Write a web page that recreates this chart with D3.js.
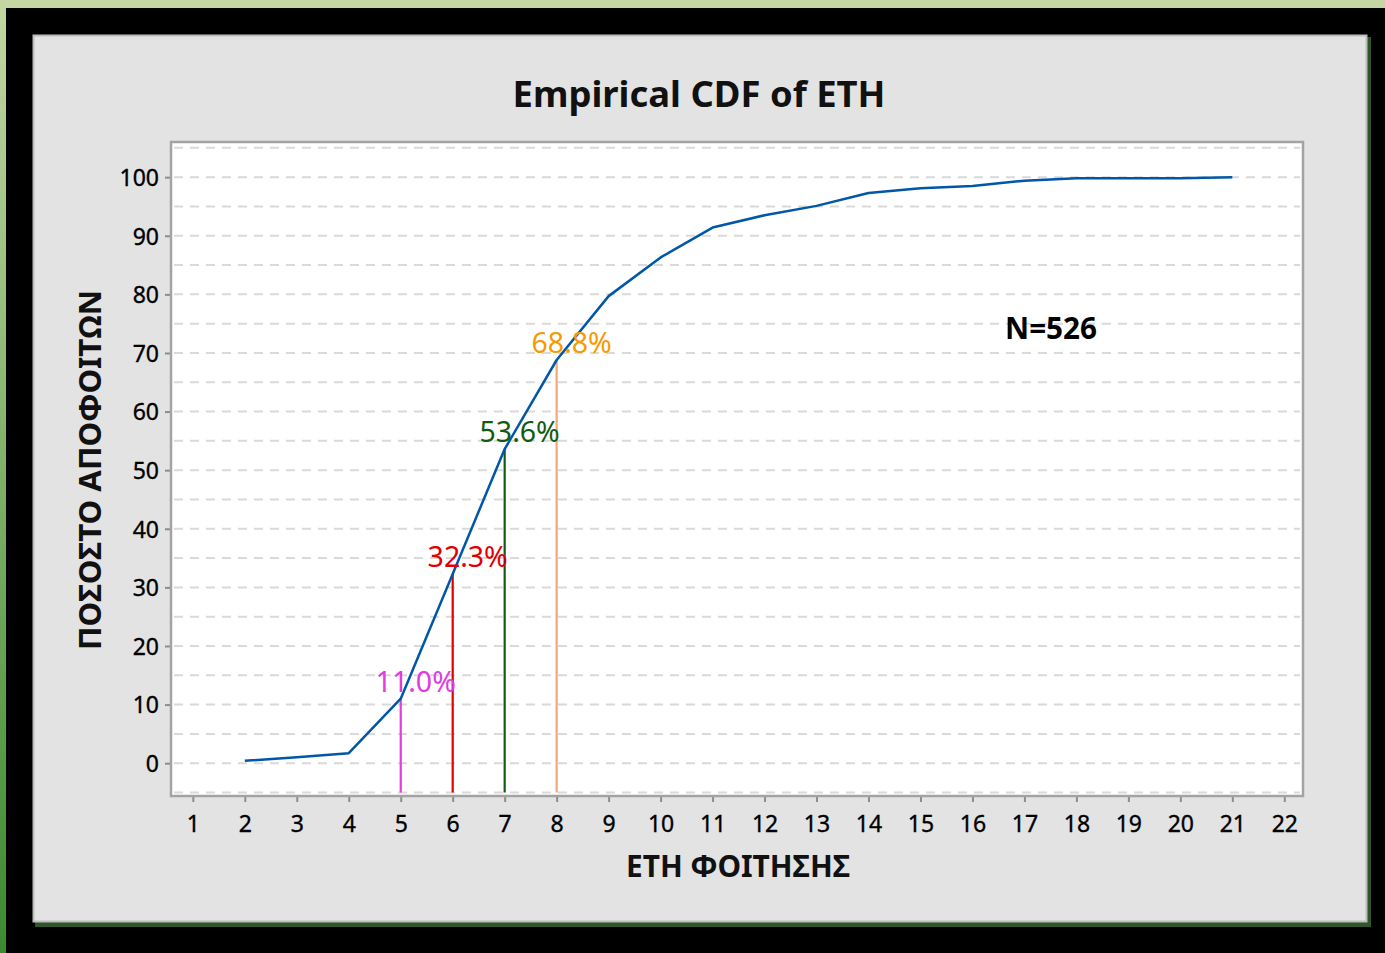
<!DOCTYPE html>
<html>
<head>
<meta charset="utf-8">
<script src="https://cdn.jsdelivr.net/npm/d3@7"></script>
<style>
  html, body { margin: 0; padding: 0; background: #000; }
  svg { display: block; }
  text { font-family: "Noto Sans", "Open Sans", sans-serif; }
</style>
</head>
<body>
<div id="chart"></div>
<script>
// data
var years = [2, 3, 4, 5, 6, 7, 8, 9, 10, 11, 12, 13, 14, 15, 16, 17, 18, 19, 20, 21]
var cdfPct = [0.4, 1.0, 1.7, 11.0, 32.3, 53.6, 68.8, 79.7, 86.3, 91.4, 93.5, 95.1, 97.3, 98.1, 98.5, 99.4, 99.8, 99.8, 99.8, 100]
var markYears = [5, 6, 7, 8]
var markPct = [11.0, 32.3, 53.6, 68.8]
var markLabels = ["11.0%", "32.3%", "53.6%", "68.8%"]
var markTextColors = ["#e03ce0", "#e00000", "#125c12", "#f59a00"]
var markLineColors = ["#e03ce0", "#e00000", "#125c12", "#f0a878"]
var xTicks = d3.range(1, 23)
var yTicks = d3.range(0, 101, 10)
var gridVals = d3.range(-5, 106, 5)

var W = 1385, H = 953
var svg = d3.select("#chart").append("svg").attr("width", W).attr("height", H)

// outer frame
var defs = svg.append("defs")
var lg = defs.append("linearGradient").attr("id", "leftg").attr("x1", 0).attr("y1", 0).attr("x2", 0).attr("y2", 1)
lg.append("stop").attr("offset", "0%").attr("stop-color", "#c3d6a2")
lg.append("stop").attr("offset", "100%").attr("stop-color", "#3b8a2e")
svg.append("rect").attr("width", W).attr("height", H).attr("fill", "#000")
svg.append("rect").attr("width", W).attr("height", 8).attr("fill", "#c4d6a4")
svg.append("rect").attr("width", 6).attr("height", H).attr("fill", "url(#leftg)")

// panel + shadow
svg.append("rect").attr("x", 35).attr("y", 37).attr("width", 1336).attr("height", 890).attr("fill", "#30552a")
svg.append("rect").attr("x", 33.5).attr("y", 35.5).attr("width", 1333).attr("height", 886)
    .attr("fill", "#e3e3e3").attr("stroke", "#bdbdbd").attr("stroke-width", 2)

var plot = { left: 171, right: 1303, top: 142, bottom: 796 }

var x = d3.scaleLinear().domain([0.58, 22.36]).range([plot.left, plot.right])
var y = d3.scaleLinear().domain([-5.6, 106]).range([plot.bottom, plot.top])

svg.append("rect")
    .attr("x", plot.left).attr("y", plot.top)
    .attr("width", plot.right - plot.left).attr("height", plot.bottom - plot.top)
    .attr("fill", "#fff")

// dashed grid
svg.append("g").selectAll("line").data(gridVals).enter().append("line")
    .attr("x1", plot.left + 3).attr("x2", plot.right - 3)
    .attr("y1", function(d) { return y(d) }).attr("y2", function(d) { return y(d) })
    .attr("stroke", "#d9d9d9").attr("stroke-width", 2).attr("stroke-dasharray", "9,7")

// axes
var xAxis = svg.append("g").attr("transform", "translate(0," + plot.bottom + ")")
    .call(d3.axisBottom(x).tickValues(xTicks).tickSize(6).tickPadding(8).tickFormat(d3.format("d")))
var yAxis = svg.append("g").attr("transform", "translate(" + plot.left + ",0)")
    .call(d3.axisLeft(y).tickValues(yTicks).tickSize(6).tickPadding(6).tickFormat(d3.format("d")))
;[xAxis, yAxis].forEach(function(a) {
    a.select(".domain").remove()
    a.selectAll(".tick line").attr("stroke", "#8c8c8c").attr("stroke-width", 2)
    a.selectAll(".tick text").attr("fill", "#000").attr("font-size", 23)
        .attr("font-family", "\"Noto Sans\", sans-serif")
        .attr("stroke", "#000").attr("stroke-width", 0.35)
})
xAxis.selectAll(".tick text").attr("dy", "0.95em")
yAxis.selectAll(".tick text").attr("dy", "0.36em")

// plot frame
svg.append("rect")
    .attr("x", plot.left).attr("y", plot.top)
    .attr("width", plot.right - plot.left).attr("height", plot.bottom - plot.top)
    .attr("fill", "none").attr("stroke", "#a3a3a3").attr("stroke-width", 2.5)

// reference lines from the bottom up to the curve
svg.append("g").selectAll("line").data(markYears).enter().append("line")
    .attr("x1", function(d) { return x(d) }).attr("x2", function(d) { return x(d) })
    .attr("y1", y(-5)).attr("y2", function(d, i) { return y(markPct[i]) })
    .attr("stroke", function(d, i) { return markLineColors[i] }).attr("stroke-width", 2.2)

// ecdf curve
var line = d3.line()
    .x(function(d, i) { return x(years[i]) })
    .y(function(d) { return y(d) })
svg.append("path").datum(cdfPct).attr("d", line)
    .attr("fill", "none").attr("stroke", "#0057a8").attr("stroke-width", 2.5)
    .attr("stroke-linejoin", "round")

// percentage labels
svg.append("g").selectAll("text").data(markYears).enter().append("text")
    .attr("x", function(d) { return x(d) + 15 })
    .attr("y", function(d, i) { return y(markPct[i]) - 7 })
    .attr("text-anchor", "middle").attr("font-size", 28.5)
    .attr("fill", function(d, i) { return markTextColors[i] })
    .text(function(d, i) { return markLabels[i] })

// fit a text element to a width measured on the picture
function fitWidth(t, w) {
    t.attr("font-size", 100)
    var len = t.node().getComputedTextLength()
    t.attr("font-size", 100 * w / len)
    return t
}

fitWidth(svg.append("text").attr("x", 699).attr("y", 107)
    .attr("text-anchor", "middle").attr("font-weight", "bold").attr("fill", "#111")
    .text("Empirical CDF of ETH"), 373)

fitWidth(svg.append("text").attr("x", 738).attr("y", 877)
    .attr("text-anchor", "middle").attr("font-weight", "bold").attr("fill", "#111")
    .text("ΕΤΗ ΦΟΙΤΗΣΗΣ"), 224)

fitWidth(svg.append("text").attr("transform", "translate(101,470) rotate(-90)")
    .attr("text-anchor", "middle").attr("font-weight", "bold").attr("fill", "#111")
    .text("ΠΟΣΟΣΤΟ ΑΠΟΦΟΙΤΩΝ"), 360)

fitWidth(svg.append("text").attr("x", 1051).attr("y", 339)
    .attr("text-anchor", "middle").attr("font-weight", "bold").attr("fill", "#000")
    .text("N=526"), 92)
</script>
</body>
</html>
